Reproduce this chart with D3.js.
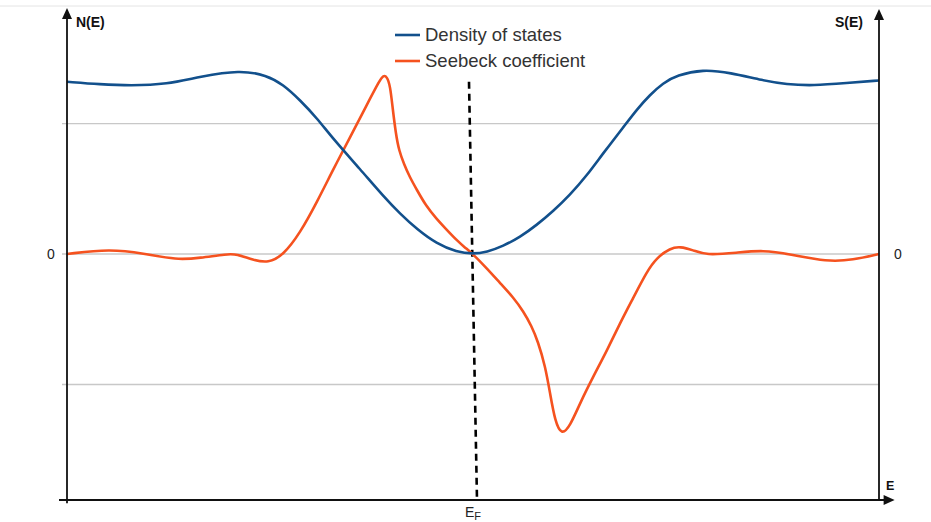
<!DOCTYPE html>
<html>
<head>
<meta charset="utf-8">
<script src="https://cdn.jsdelivr.net/npm/d3@7"></script>
<style>
  html, body { margin: 0; padding: 0; background: #fff; }
  svg { display: block; font-family: "Liberation Sans", Arial, sans-serif; }
</style>
</head>
<body>
<svg id="chart" width="931" height="522"></svg>
<script>
// Energy axis in arbitrary units, Fermi level at 50
const energy = [0, 4.1, 7.8, 12.3, 16.4, 21.3, 24.6, 26.6, 28.7, 30.8, 32.8, 36.1, 39.0, 41.0, 43.1, 45.5, 48.0, 50,
                51.7, 53.7, 55.8, 57.8, 59.9, 61.9, 64.0, 66.0, 68.5, 70.2, 71.8, 73.4, 75.1, 78.3, 81.65, 85.7,
                88.6, 91.9, 96.0, 100];
const densityOfStates = [1.32, 1.30, 1.29, 1.30, 1.36, 1.41, 1.37, 1.30, 1.18, 1.04, 0.88, 0.65, 0.44, 0.31, 0.19, 0.08, 0.015, 0.0,
                         0.015, 0.06, 0.13, 0.22, 0.33, 0.45, 0.60, 0.77, 0.97, 1.11, 1.22, 1.31, 1.37, 1.415, 1.39, 1.33,
                         1.30, 1.29, 1.31, 1.33];

const energyS = [0, 5.3, 9.4, 13.5, 16.4, 19.7, 20.9, 22.9, 24.8, 26.6, 28.7, 30.8, 32.8, 34.9, 36.9, 38.5, 38.95,
                 39.4, 39.8, 40.1, 40.5, 40.9, 41.5, 42.2, 43.1, 44.2, 45.5, 46.7, 48.0, 49.0, 50,
                 51.7, 53.3, 55.0, 56.2, 57.2, 58.0, 58.9, 59.5, 60.1, 60.9, 61.95, 63.2, 64.8, 66.5, 68.1, 69.7,
                 71.4, 72.6, 74.3, 75.5, 77.1, 78.7, 82.5, 85.7, 89.0, 93.6, 96.8, 100];
const seebeck = [0.0, 0.04, 0.005, -0.046, -0.03, 0.0, 0.0, -0.046, -0.07, -0.01, 0.16, 0.40, 0.65, 0.90, 1.14, 1.33, 1.37,
                 1.36, 1.29, 1.12, 0.92, 0.79, 0.69, 0.59, 0.49, 0.37, 0.27, 0.19, 0.105, 0.05, 0.0,
                 -0.11, -0.22, -0.335, -0.44, -0.55, -0.67, -0.86, -1.07, -1.28, -1.39, -1.32, -1.14, -0.94, -0.74, -0.53, -0.34,
                 -0.135, -0.03, 0.045, 0.058, 0.03, -0.01, 0.01, 0.03, 0.0, -0.06, -0.046, 0.0];

const gridValues = [-1, 0, 1];
const zeroLabel = "0";
const fermiEnergy = 50;
const seriesNames = ["Density of states", "Seebeck coefficient"];
const seriesColors = ["#12508c", "#f5521f"];

const svg = d3.select("#chart");

const x = d3.scaleLinear().domain([0, 100]).range([67, 879]);
const y = d3.scaleLinear().domain([-1.885, 1.87]).range([500, 10]);

// faint page edge line
svg.append("line").attr("x1", 0).attr("x2", 931).attr("y1", 6).attr("y2", 6)
  .attr("stroke", "#e4e4e4").attr("stroke-width", 1);

// horizontal grid
svg.append("g").selectAll("line").data(gridValues).join("line")
  .attr("x1", x(0) - 5).attr("x2", x(100))
  .attr("y1", d => y(d)).attr("y2", d => y(d))
  .attr("stroke", "#c8c8c8").attr("stroke-width", 1.3);

// Fermi level marker
svg.append("line")
  .attr("x1", x(fermiEnergy) - 4).attr("x2", x(fermiEnergy) + 4)
  .attr("y1", y(1.32)).attr("y2", y(-1.885))
  .attr("stroke", "#000").attr("stroke-width", 2.6)
  .attr("stroke-dasharray", "7,5");

// smooth curves through the sampled values
const curve = d3.curveBasis;
const lineDos = d3.line().x((d, i) => x(energy[i])).y(d => y(d)).curve(curve);
const lineS = d3.line().x((d, i) => x(energyS[i])).y(d => y(d)).curve(curve);

svg.append("path").datum(seebeck).attr("d", lineS)
  .attr("fill", "none").attr("stroke", seriesColors[1]).attr("stroke-width", 2.6)
  .attr("stroke-linejoin", "round");
svg.append("path").datum(densityOfStates).attr("d", lineDos)
  .attr("fill", "none").attr("stroke", seriesColors[0]).attr("stroke-width", 2.6)
  .attr("stroke-linejoin", "round");

// axes with arrow heads
const axes = svg.append("g").attr("stroke", "#111").attr("stroke-width", 1.8);
axes.append("line").attr("x1", x(0)).attr("x2", x(0)).attr("y1", y(-1.91)).attr("y2", y(1.82));
axes.append("line").attr("x1", x(100)).attr("x2", x(100)).attr("y1", y(-1.885)).attr("y2", y(1.82));
axes.append("line").attr("x1", x(0) - 8).attr("x2", x(101.5)).attr("y1", y(-1.885)).attr("y2", y(-1.885));

const arrowUp = (cx, tip) => `M${cx},${tip} L${cx - 5},${tip + 11} L${cx + 5},${tip + 11} Z`;
const arrowRight = (tip, cy) => `M${tip},${cy} L${tip - 11},${cy - 5} L${tip - 11},${cy + 5} Z`;
svg.append("path").attr("d", arrowUp(x(0), y(1.87) - 2)).attr("fill", "#111");
svg.append("path").attr("d", arrowUp(x(100), y(1.87) - 1)).attr("fill", "#111");
svg.append("path").attr("d", arrowRight(x(101.8) + 1, y(-1.885))).attr("fill", "#111");

// axis labels
svg.append("text").attr("x", x(0) + 9).attr("y", 27).text("N(E)")
  .attr("font-size", 14).attr("font-weight", "bold").attr("fill", "#111");
svg.append("text").attr("x", x(100) - 16).attr("y", 27).attr("text-anchor", "end").text("S(E)")
  .attr("font-size", 14).attr("font-weight", "bold").attr("fill", "#111");
svg.append("text").attr("x", 886).attr("y", 490).text("E")
  .attr("font-size", 12.5).attr("font-weight", "bold").attr("fill", "#111");

svg.append("text").attr("x", 51).attr("y", y(0) + 5).attr("text-anchor", "middle").text(zeroLabel)
  .attr("font-size", 14).attr("fill", "#222");
svg.append("text").attr("x", 898).attr("y", y(0) + 5).attr("text-anchor", "middle").text(zeroLabel)
  .attr("font-size", 14).attr("fill", "#222");

const ef = svg.append("text").attr("x", 465).attr("y", 517).attr("font-size", 14).attr("fill", "#222");
ef.append("tspan").text("E");
ef.append("tspan").attr("font-size", 11).attr("dy", 3).text("F");

// legend
const legend = svg.append("g").attr("transform", "translate(395,35)");
seriesNames.forEach((name, i) => {
  const g = legend.append("g").attr("transform", `translate(0,${i * 26})`);
  g.append("line").attr("x1", 0).attr("x2", 25).attr("y1", 0).attr("y2", 0)
    .attr("stroke", seriesColors[i]).attr("stroke-width", 2.6);
  g.append("text").attr("x", 30).attr("y", 6).text(name)
    .attr("font-size", 18.5).attr("fill", "#333");
});
</script>
</body>
</html>
